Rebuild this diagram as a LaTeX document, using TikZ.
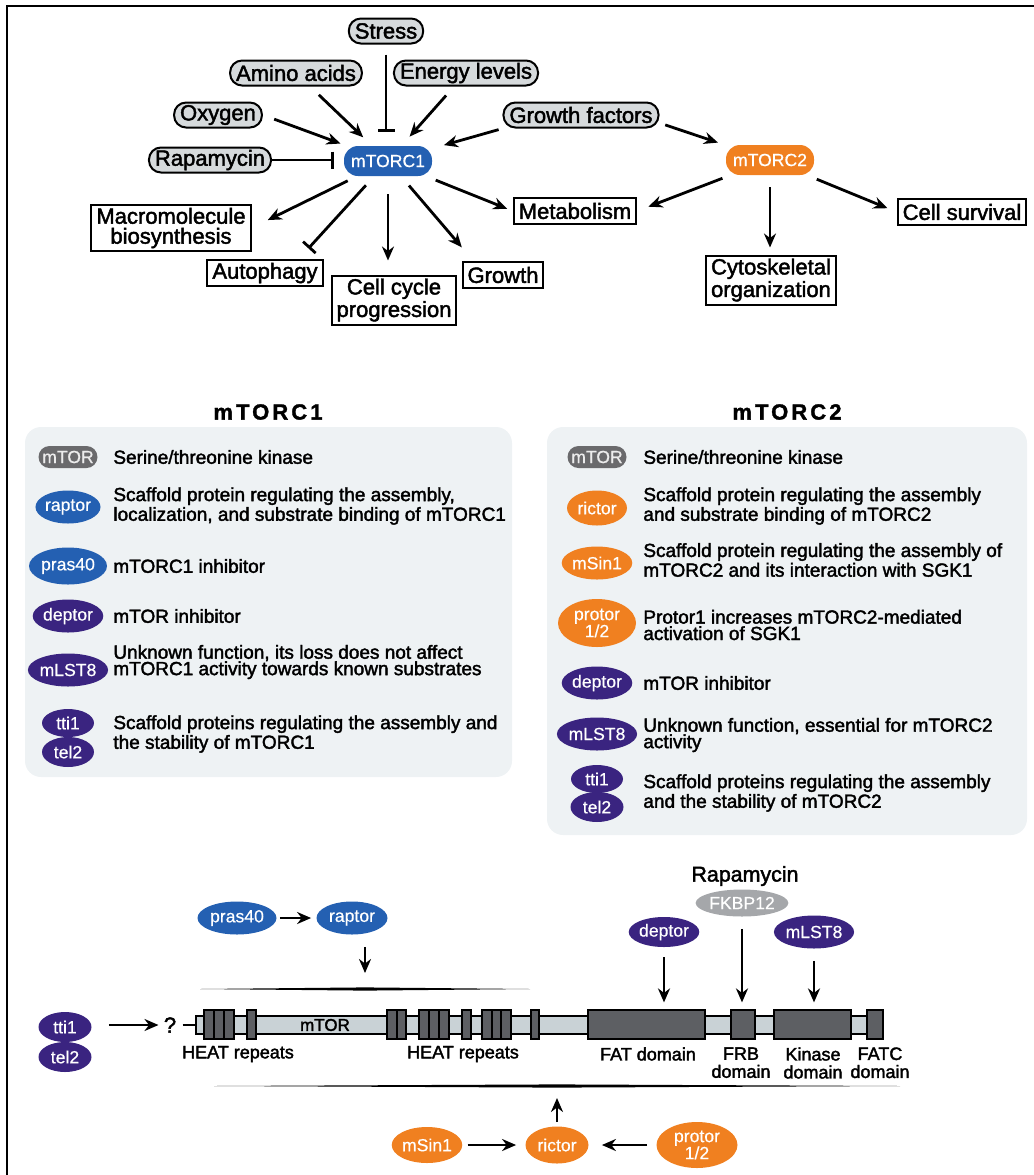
\documentclass[tikz,border=0pt]{standalone}
\usepackage{fontspec}
\setmainfont{Liberation Sans}
\newfontfamily\txtfont{Liberation Sans}[FakeBold=2]
\newfontfamily\pillfont{Liberation Sans}[FakeBold=0.5]
\newfontfamily\headfont{Liberation Sans Bold}[LetterSpace=14,FakeBold=1.5]
\usetikzlibrary{arrows.meta,shapes.geometric}
\definecolor{mtorblue}{HTML}{2460B2}
\definecolor{mtororange}{HTML}{F08020}
\definecolor{mtorpurple}{HTML}{3A2480}
\definecolor{mtorgray}{HTML}{6A6A6C}
\definecolor{fkbpgray}{HTML}{A5A7AA}
\definecolor{cuegray}{HTML}{D6DADC}
\definecolor{panelfill}{HTML}{EEF2F4}
\definecolor{barfill}{HTML}{C9D2D6}
\definecolor{domgray}{HTML}{5D5F63}
\begin{document}
\begin{tikzpicture}[x=0.5pt,y=-0.5pt,
  cue/.style={draw,line width=1pt,fill=cuegray,rounded corners=6pt,minimum height=12.5pt,inner xsep=3pt,inner ysep=0pt,font=\txtfont\fontsize{11}{10}\selectfont},
  outcome/.style={draw,line width=1pt,fill=white,align=center,minimum height=13pt,inner xsep=2.5pt,inner ysep=1.5pt,font=\txtfont\fontsize{11}{10}\selectfont},
  hub/.style={rounded corners=7pt,minimum width=44pt,minimum height=15pt,inner sep=0pt,text=white,font=\pillfont\fontsize{8.8}{8}\selectfont},
  prot/.style={ellipse,inner sep=0pt,text=white,align=center,font=\pillfont\fontsize{8.8}{8.5}\selectfont},
  mtorpill/.style={rounded corners=5.5pt,fill=mtorgray,minimum width=29.5pt,minimum height=11pt,inner sep=0pt,text=white!85!gray,font=\pillfont\fontsize{8.8}{8}\selectfont},
  desc/.style={anchor=west,align=left,inner sep=0pt,font=\txtfont\fontsize{9.5}{8.2}\selectfont},
  head/.style={font=\headfont\fontsize{11}{10}\selectfont},
  act/.style={-{Stealth[length=7pt,width=6pt]},line width=1.4pt},
  inh/.style={-{Bar[width=8.5pt]},line width=1.4pt},
  heat/.style={draw,line width=0.6pt,fill=domgray},
  dombox/.style={draw,line width=0.6pt,fill=domgray,inner sep=0pt,minimum height=14.5pt},
  lbl/.style={align=center,inner sep=0pt,font=\txtfont\fontsize{9}{9}\selectfont}]
\useasboundingbox (0,0) rectangle (1034,1175);
\draw[line width=1pt] (7,1175) -- (7,6) -- (1034,6);

% signals upstream of the complexes
\node[cue] (stress) at (386,31) {Stress};
\node[cue] (amino) at (296,73) {Amino acids};
\node[cue] (energy) at (466,73) {Energy levels};
\node[cue] (oxygen) at (218,115) {Oxygen};
\node[cue] (gf) at (581,115) {Growth factors};
\node[cue] (rapa) at (210,160) {Rapamycin};
\node[hub,fill=mtorblue] (mtorc1) at (388,161) {mTORC1};
\node[hub,fill=mtororange] (mtorc2) at (770,160) {mTORC2};

% outputs
\node[outcome] (macro) at (171,228) {Macromolecule\\biosynthesis};
\node[outcome] (autoph) at (265,273) {Autophagy};
\node[outcome] (cellcyc) at (394,300) {Cell cycle\\progression};
\node[outcome] (growth) at (503,275) {Growth};
\node[outcome] (metab) at (575,211) {Metabolism};
\node[outcome] (cyto) at (771,280) {Cytoskeletal\\organization};
\node[outcome] (surv) at (962,212) {Cell survival};

\draw[inh,shorten <=5pt,shorten >=7pt] (stress.south) -- (stress.south |- mtorc1.north);
\draw[act,shorten <=6pt,shorten >=6pt] (amino) -- (mtorc1);
\draw[act,shorten <=6pt,shorten >=6pt] (energy) -- (mtorc1);
\draw[act,shorten <=6pt,shorten >=3pt] (oxygen.east) -- (mtorc1);
\draw[act,shorten <=2pt,shorten >=6pt] (gf.south west) -- (mtorc1);
\draw[act,shorten <=3pt,shorten >=4pt] ([yshift=-4pt]gf.east) -- (mtorc2);
\draw[inh,shorten >=5pt] (rapa.east) -- (rapa.east -| mtorc1.west);
\draw[act,shorten <=5pt,shorten >=9pt] (mtorc1) -- (macro.east);
\draw[inh,shorten <=6pt,shorten >=7pt] (mtorc1) -- ([xshift=17pt]autoph.north);
\draw[act,shorten <=9pt,shorten >=7pt] (mtorc1.south) -- (mtorc1.south |- cellcyc.north);
\draw[act,shorten <=6pt,shorten >=9pt] (mtorc1) -- ([xshift=6pt]growth.north west);
\draw[act,shorten <=5pt,shorten >=3pt] (mtorc1) -- (metab.west);
\draw[act,shorten <=4pt,shorten >=6pt] (mtorc2) -- (metab.east);
\draw[act,shorten <=6pt,shorten >=3.5pt] (mtorc2.south) -- (mtorc2.south |- cyto.north);
\draw[act,shorten <=5pt,shorten >=5pt] (mtorc2) -- (surv.west);

% complex components
\fill[panelfill,rounded corners=8pt] (25,427) rectangle (512,777);
\fill[panelfill,rounded corners=8pt] (547,427) rectangle (1027,835);
\node[head] (hdone) at (268,412) {mTORC1};
\node[head] (hdtwo) at (787,412) {mTORC2};

\node[mtorpill] (lmtor) at (68,457) {mTOR};
\node[desc] (dlmtor) at (113,457) {Serine/threonine kinase};
\node[prot,fill=mtorblue,minimum width=32.5pt,minimum height=16.5pt] (lraptor) at (68,507) {raptor};
\node[desc] (dlraptor) at (113,506) {Scaffold protein regulating the assembly,\\localization, and substrate binding of mTORC1};
\node[prot,fill=mtorblue,minimum width=39pt,minimum height=18.5pt] (lpras) at (68,566) {pras40};
\node[desc] (dlpras) at (113,566) {mTORC1 inhibitor};
\node[prot,fill=mtorpurple,minimum width=32.5pt,minimum height=16.5pt] (ldeptor) at (68,616) {deptor};
\node[desc] (dldeptor) at (113,616) {mTOR inhibitor};
\node[prot,fill=mtorpurple,minimum width=35pt,minimum height=16.5pt] (lmlst) at (68,670) {mLST8};
\node[desc] (dlmlst) at (113,662) {Unknown function, its loss does not affect\\mTORC1 activity towards known substrates};
\node[prot,fill=mtorpurple,minimum width=26pt,minimum height=14pt] (ltti) at (68,723) {tti1};
\node[prot,fill=mtorpurple,minimum width=26pt,minimum height=15pt] (ltel) at (68,752) {tel2};
\node[desc] (dltti) at (113,734) {Scaffold proteins regulating the assembly and\\the stability of mTORC1};

\node[mtorpill] (rmtor) at (597,457) {mTOR};
\node[desc] (drmtor) at (643,457) {Serine/threonine kinase};
\node[prot,fill=mtororange,minimum width=30pt,minimum height=17.5pt] (rrictor) at (597,508) {rictor};
\node[desc] (drrictor) at (643,506) {Scaffold protein regulating the assembly\\and substrate binding of mTORC2};
\node[prot,fill=mtororange,minimum width=29pt,minimum height=16.5pt] (rmsin) at (597,563) {mSin1};
\node[desc] (drmsin) at (643,560) {Scaffold protein regulating the assembly of\\mTORC2 and its interaction with SGK1};
\node[prot,fill=mtororange,minimum width=39pt,minimum height=24pt] (rprotor) at (597,623) {protor\\1/2};
\node[desc] (drprotor) at (643,625) {Protor1 increases mTORC2-mediated\\activation of SGK1};
\node[prot,fill=mtorpurple,minimum width=32.5pt,minimum height=16.5pt] (rdeptor) at (597,683) {deptor};
\node[desc] (drdeptor) at (643,683) {mTOR inhibitor};
\node[prot,fill=mtorpurple,minimum width=34.5pt,minimum height=16.5pt] (rmlst) at (597,734) {mLST8};
\node[desc] (drmlst) at (643,735) {Unknown function, essential for mTORC2\\activity};
\node[prot,fill=mtorpurple,minimum width=26pt,minimum height=14pt] (rtti) at (597,779) {tti1};
\node[prot,fill=mtorpurple,minimum width=26.5pt,minimum height=15pt] (rtel) at (597,807) {tel2};
\node[desc] (drtti) at (643,793) {Scaffold proteins regulating the assembly\\and the stability of mTORC2};

% mTOR domain structure
\node[draw,line width=0.6pt,fill=barfill,minimum width=337pt,minimum height=9pt,inner sep=0pt] (bar) at (533,1025) {};
\foreach \a/\b in {204/214,214/224,224/234,247/256,387/397,397/406,419/429,429/439,439/449,462/471,482/492,492/501,501/511,531/539}
  \draw[heat] (\a,1010) rectangle (\b,1039);
\node[inner sep=0pt,font=\txtfont\fontsize{8.5}{8}\selectfont] (mtorlbl) at (325,1025) {mTOR};
\node[dombox,minimum width=58.5pt] (fat) at (646.5,1024.5) {};
\node[dombox,minimum width=12pt] (frb) at (743,1024.5) {};
\node[dombox,minimum width=38.5pt] (kindom) at (812.5,1024.5) {};
\node[dombox,minimum width=8pt] (fatc) at (875,1024.5) {};
\node[lbl] (heatone) at (238,1054) {HEAT repeats};
\node[lbl] (heattwo) at (463,1054) {HEAT repeats};
\node[lbl] (fatlbl) at (648,1054) {FAT domain};
\node[lbl,anchor=north] (frblbl) at (741,1047) {FRB\\domain};
\node[lbl,anchor=north] (kinlbl) at (813,1047) {Kinase\\domain};
\node[lbl,anchor=north] (fatclbl) at (880,1047) {FATC\\domain};

\fill (200,989) -- (365,987.4) -- (530,989) -- (365,990.6) -- cycle;
\fill (214,1086) -- (557,1084.4) -- (900,1086) -- (557,1087.6) -- cycle;
\coordinate (topline) at (365,989);
\coordinate (botline) at (557,1086);

\node[prot,fill=mtorblue,minimum width=39.5pt,minimum height=16.5pt] (bpras) at (237,918) {pras40};
\node[prot,fill=mtorblue,minimum width=35.5pt,minimum height=16.5pt] (braptor) at (352,918) {raptor};
\draw[act,shorten <=1.5pt,shorten >=2.5pt] (bpras) -- (braptor);
\draw[act,shorten <=6pt,shorten >=8pt] ([xshift=6.5pt]braptor.south) -- ([xshift=6.5pt]braptor.south |- topline);

\node[prot,fill=mtorpurple,minimum width=26.5pt,minimum height=15pt] (btti) at (65,1027) {tti1};
\node[prot,fill=mtorpurple,minimum width=26.5pt,minimum height=15pt] (btel) at (65,1057) {tel2};
\node[inner sep=0pt,font=\txtfont\fontsize{11}{10}\selectfont] (query) at (170,1025) {?};
\draw[act,shorten <=8.5pt,shorten >=2.5pt] (btti.east |- query) -- (query.west);
\draw[line width=1.4pt,shorten <=3pt] (query.east) -- (bar.west);

\node[inner sep=0pt,font=\txtfont\fontsize{10.7}{10}\selectfont] (brapa) at (745,876) {Rapamycin};
\node[prot,fill=fkbpgray,minimum width=39pt,minimum height=13.5pt] (fkbp) at (742,903) {FKBP12};
\node[prot,fill=mtorpurple,minimum width=33pt,minimum height=15pt] (bdeptor) at (664,932) {deptor};
\node[prot,fill=mtorpurple,minimum width=35pt,minimum height=16.5pt] (bmlst) at (814,932) {mLST8};
\draw[act,shorten <=5pt,shorten >=3.5pt] (bdeptor.south) -- (bdeptor.south |- fat.north);
\draw[act,shorten <=6pt,shorten >=3.5pt] (fkbp.south) -- (fkbp.south |- frb.north);
\draw[act,shorten <=6pt,shorten >=3.5pt] (bmlst.south) -- (bmlst.south |- kindom.north);

\node[prot,fill=mtororange,minimum width=34pt,minimum height=18pt] (bmsin) at (427,1145) {mSin1};
\node[prot,fill=mtororange,minimum width=31.5pt,minimum height=18.5pt] (brictor) at (557,1145) {rictor};
\node[prot,fill=mtororange,minimum width=40.5pt,minimum height=23pt] (bprotor) at (697,1145) {protor\\1/2};
\draw[act,shorten <=2.5pt,shorten >=4.5pt] (bmsin) -- (brictor);
\draw[act,shorten <=4.5pt,shorten >=6.5pt] (bprotor) -- (brictor);
\draw[act,shorten <=2pt,shorten >=6pt] (brictor.north) -- (brictor.north |- botline);
\end{tikzpicture}
\end{document}
